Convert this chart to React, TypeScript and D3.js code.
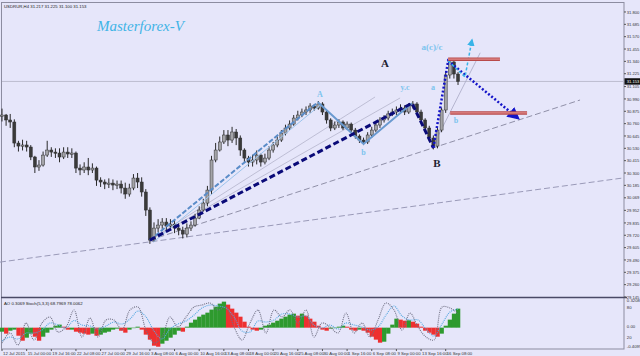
import React from 'react';
import * as d3 from 'd3';

const W = 640;
const H = 356;

const closes = [30.840,30.794,30.775,30.579,30.551,30.561,30.542,30.449,30.356,30.374,30.467,30.514,30.495,30.486,30.449,30.495,30.477,30.486,30.346,30.328,30.356,30.328,30.346,30.234,30.216,30.197,30.206,30.188,30.197,30.160,30.104,30.160,30.253,30.216,30.123,29.955,29.675,29.787,29.815,29.843,29.806,29.824,29.787,29.768,29.731,29.787,29.815,29.880,29.955,30.020,30.141,30.421,30.514,30.589,30.654,30.607,30.682,30.626,30.514,30.439,30.402,30.421,30.467,30.402,30.439,30.514,30.561,30.607,30.672,30.719,30.756,30.812,30.840,30.868,30.887,30.924,30.905,30.943,30.868,30.794,30.719,30.747,30.775,30.719,30.756,30.700,30.644,30.607,30.589,30.654,30.700,30.747,30.794,30.812,30.850,30.868,30.887,30.905,30.868,30.924,30.943,30.868,30.794,30.719,30.626,30.551,30.700,30.887,31.213,31.334,31.222,31.153];
const highs = [30.900,30.850,30.850,30.800,30.600,30.610,30.600,30.560,30.460,30.420,30.500,30.600,30.540,30.530,30.530,30.540,30.540,30.530,30.500,30.380,30.400,30.440,30.390,30.360,30.260,30.240,30.250,30.240,30.230,30.230,30.210,30.200,30.290,30.300,30.260,30.150,29.980,29.840,29.870,29.880,29.880,29.870,29.860,29.830,29.800,29.830,29.850,29.920,29.990,30.060,30.180,30.460,30.580,30.640,30.700,30.700,30.730,30.710,30.650,30.530,30.460,30.470,30.510,30.480,30.480,30.550,30.590,30.640,30.700,30.750,30.790,30.840,30.880,30.900,30.920,30.950,30.940,30.970,30.960,30.880,30.810,30.780,30.800,30.790,30.780,30.770,30.720,30.660,30.630,30.680,30.730,30.770,30.820,30.840,30.880,30.900,30.920,30.940,30.930,30.950,30.970,30.960,30.890,30.810,30.740,30.650,30.720,30.910,31.250,31.360,31.350,31.240];
const lows = [30.780,30.740,30.720,30.540,30.500,30.510,30.500,30.420,30.300,30.320,30.360,30.450,30.450,30.440,30.400,30.430,30.440,30.440,30.300,30.280,30.300,30.280,30.300,30.180,30.170,30.150,30.160,30.140,30.150,30.110,30.060,30.080,30.140,30.160,30.080,29.900,29.640,29.660,29.750,29.780,29.760,29.770,29.740,29.720,29.690,29.700,29.760,29.800,29.870,29.940,29.990,30.100,30.400,30.500,30.570,30.550,30.580,30.560,30.460,30.400,30.360,30.360,30.380,30.360,30.380,30.420,30.490,30.540,30.590,30.650,30.700,30.740,30.790,30.820,30.840,30.860,30.880,30.890,30.840,30.760,30.690,30.700,30.720,30.700,30.700,30.680,30.620,30.580,30.560,30.570,30.630,30.680,30.720,30.770,30.790,30.830,30.840,30.860,30.840,30.850,30.900,30.840,30.770,30.690,30.600,30.520,30.530,30.680,30.860,31.180,31.180,31.120];

const aoValues = [-0.049,-0.073,-0.037,-0.024,-0.098,-0.159,-0.122,-0.073,-0.110,-0.159,-0.110,-0.061,-0.024,0.024,0.037,0.012,-0.024,-0.024,-0.049,-0.061,-0.073,-0.085,-0.073,-0.098,-0.085,-0.061,-0.049,-0.024,-0.012,-0.037,-0.061,-0.024,0.000,0.012,-0.024,-0.085,-0.146,-0.220,-0.232,-0.195,-0.159,-0.122,-0.085,-0.037,-0.049,0.012,0.061,0.098,0.134,0.159,0.183,0.220,0.256,0.293,0.317,0.281,0.232,0.183,0.134,0.073,0.012,-0.024,-0.037,-0.024,0.024,0.037,0.061,0.085,0.110,0.134,0.159,0.171,0.146,0.171,0.146,0.110,0.073,0.024,-0.024,-0.037,-0.012,-0.006,0.012,0.024,0.012,-0.024,-0.037,-0.024,-0.037,-0.061,-0.110,-0.146,-0.183,-0.171,-0.073,0.037,0.110,0.098,0.085,0.090,0.073,0.049,0.012,-0.037,-0.061,-0.085,-0.110,-0.073,0.024,0.098,0.171,0.232];

const stochMain = [10,30,6,50,16,50,62,32,42,76,22,60,22,56,56,36,76,82,36,10,22,62,42,62,82,86,90,76,82,42,16,50,76,30,76,62,76,50,76,22,50,42,30,70,30,50,22,56,90,76,36,70,42,22,16,82,80,69];
const stochSignal = [14,22,18,30,30,36,50,46,40,55,46,44,38,44,52,48,58,74,62,34,18,38,48,54,66,80,86,84,80,62,34,32,54,52,56,68,68,62,64,46,40,46,38,50,46,42,36,42,66,84,64,56,56,38,24,48,72,78];

const priceTicks = [31.800,31.685,31.570,31.455,31.340,31.225,31.105,30.990,30.875,30.760,30.645,30.530,30.415,30.300,30.185,30.069,29.952,29.835,29.720,29.605,29.490,29.375,29.260,29.145];
const timeLabels = ['12 Jul 2015','15 Jul 00:00','19 Jul 16:00','22 Jul 08:00','27 Jul 00:00','29 Jul 16:00','3 Aug 08:00','6 Aug 00:00','10 Aug 16:00','13 Aug 08:00','18 Aug 00:00','20 Aug 16:00','25 Aug 08:00','30 Aug 00:00','1 Sep 16:00','6 Sep 08:00','9 Sep 00:00','13 Sep 16:00','16 Sep 08:00'];
const subLabels = ['0.3208', '80', '0.00', '20', '-0.4099'];

const lastPrice = 31.153;
const headerText = 'USDRUR,H4  31.217 31.225 31.100 31.153';
const indicatorText = 'AO 0.3069  Stoch(5,3,3) 68.7969 78.0062';

// annotation anchors: [bar step, price]
const navyWave = [[36, 29.675], [99.8, 30.95], [105, 30.535]];
const dottedWave = [[105, 30.535], [108.6, 31.345], [125.6, 30.81]];
const cyanWave = [[108.6, 31.345], [112.7, 31.195], [114.4, 31.54]];
const waveAChannel = [[36, 29.675], [76.9, 30.96]];
const waveAZig = [[76.9, 30.96], [88, 30.57], [99.8, 30.95]];
const fanA = [[36, 29.675], [90.8, 31.008]];
const fanB = [[36, 29.675], [96.9, 30.999]];
const fanC = [[105.3, 30.58], [116.4, 31.42]];
const redTop = [[108.6, 31.36], [121.2, 31.36]];
const redBottom = [[109.1, 30.86], [127.8, 30.86]];
const trendLow = [[-0.5, 29.47], [151.4, 30.255]];
const trendHigh = [[36, 29.675], [140.7, 30.98]];

export default function App() {
  const x = d3.scaleLinear().domain([0, 151.4]).range([2, 624]);
  const y = d3.scaleLinear().domain([29.145, 31.893]).range([297, 2]);
  const ao = d3.scaleLinear().domain([-0.26, 0.33]).range([349, 300.6]);
  const st = d3.scaleLinear().domain([0, 100]).range([348, 298]);
  const stepW = x(1) - x(0);

  const line = d3.line<number[]>().x(d => x(d[0])).y(d => y(d[1]));
  const stLine = d3.line<number>().x((_, i) => x(i * (111 / 57))).y(d => st(d)).curve(d3.curveCatmullRom);
  const subY = [302.3, 309.3, 328.3, 339.3, 348.3];

  const bg = '#E6E6FA';
  const axisText = { fontSize: 4.3, fill: '#333' } as const;
  const serif = "'Liberation Serif', serif";
  return (
    <svg width={W} height={H} style={{ position: 'fixed', left: 0, top: 0, display: 'block' }} fontFamily="'Liberation Sans', Arial, sans-serif">
      <defs>
        <marker id="arrNavy" viewBox="0 0 10 10" refX="8" refY="5" markerWidth="5" markerHeight="5" orient="auto">
          <path d="M0,0 L10,5 L0,10 z" fill="#1414C8" />
        </marker>
        <marker id="arrCyan" viewBox="0 0 10 10" refX="8" refY="5" markerWidth="5" markerHeight="5" orient="auto">
          <path d="M0,0 L10,5 L0,10 z" fill="#38B4E8" />
        </marker>
      </defs>
      <rect x={0} y={0} width={W} height={H} fill={bg} />
      <rect x={1.5} y={2.5} width={622.5} height={346.5} fill="none" stroke="#8C8CA0" strokeWidth={1} />
      <line x1={1} x2={627} y1={297.5} y2={297.5} stroke="#4A4A66" strokeWidth={1.5} />
      <line x1={2} x2={624} y1={y(lastPrice)} y2={y(lastPrice)} stroke="#BDBDD0" strokeWidth={1} />
      <path d={line(trendLow) || ''} fill="none" stroke="#9A9AB8" strokeWidth={1} strokeDasharray="6,3" />
      <path d={line(trendHigh) || ''} fill="none" stroke="#9090A8" strokeWidth={1} strokeDasharray="6,3" />
      <path d={line(fanA) || ''} fill="none" stroke="#B4B4CC" strokeWidth={0.8} />
      <path d={line(fanB) || ''} fill="none" stroke="#B4B4CC" strokeWidth={0.8} />
      <path d={line(fanC) || ''} fill="none" stroke="#A8A8C4" strokeWidth={0.8} />
      {closes.map((c, i) => {
        const o = i === 0 ? c : closes[i - 1];
        const cx = x(i);
        const up = c >= o;
        const top = y(Math.max(o, c));
        const bh = Math.max(1.2, y(Math.min(o, c)) - top);
        return (
          <g key={i}>
            <line x1={cx} x2={cx} y1={y(highs[i])} y2={y(lows[i])} stroke="#2A2A2A" strokeWidth={1} />
            <rect x={cx - 1.5} y={top} width={3} height={bh} fill={up ? '#A4A4A8' : '#3A3A3A'} stroke="#2E2E2E" strokeWidth={0.5} />
          </g>
        );
      })}
      <path d={line(waveAChannel) || ''} fill="none" stroke="#5A8CC8" strokeWidth={2} strokeDasharray="5,2" />
      <path d={line(waveAChannel.map(d => [d[0] + 0.8, d[1] - 0.02])) || ''} fill="none" stroke="#9CC4EC" strokeWidth={1} />
      <path d={line(waveAZig) || ''} fill="none" stroke="#6A9AD0" strokeWidth={2} />
      <path d={line(navyWave) || ''} fill="none" stroke="#0A0A78" strokeWidth={3} strokeDasharray="6,3" />
      <path d={line(dottedWave) || ''} fill="none" stroke="#1414C8" strokeWidth={2.5} strokeDasharray="2,2" markerEnd="url(#arrNavy)" />
      <path d={line(cyanWave) || ''} fill="none" stroke="#38B4E8" strokeWidth={1.5} strokeDasharray="3,2" markerEnd="url(#arrCyan)" />
      <path d={line(redTop) || ''} fill="none" stroke="#B84A4A" strokeWidth={3.5} />
      <path d={line(redTop) || ''} fill="none" stroke="#E08A8A" strokeWidth={1.2} />
      <path d={line(redBottom) || ''} fill="none" stroke="#B84A4A" strokeWidth={3.5} />
      <path d={line(redBottom) || ''} fill="none" stroke="#E08A8A" strokeWidth={1.2} />
      <text x={97} y={31} fontFamily={serif} fontStyle="italic" fontSize={15} fill="#3FB4E6">Masterforex-V</text>
      <text x={385} y={67} fontFamily={serif} fontWeight="bold" fontSize={11} fill="#202030" textAnchor="middle">A</text>
      <text x={437} y={167} fontFamily={serif} fontWeight="bold" fontSize={11} fill="#202030" textAnchor="middle">B</text>
      <text x={432} y={50} fontFamily={serif} fontWeight="bold" fontSize={9} fill="#7CC4EE" textAnchor="middle">a(c)/c</text>
      <text x={405} y={90} fontFamily={serif} fontWeight="bold" fontSize={8} fill="#7CC4EE" textAnchor="middle">y.c</text>
      <text x={433} y={90} fontFamily={serif} fontWeight="bold" fontSize={8} fill="#7CC4EE" textAnchor="middle">a</text>
      <text x={456} y={123} fontFamily={serif} fontWeight="bold" fontSize={8} fill="#7CC4EE" textAnchor="middle">b</text>
      <text x={x(76.9) + 2} y={y(30.96) - 5} fontFamily={serif} fontWeight="bold" fontSize={8} fill="#7CC4EE" textAnchor="middle">A</text>
      <text x={x(88)} y={y(30.57) + 11} fontFamily={serif} fontWeight="bold" fontSize={8} fill="#7CC4EE" textAnchor="middle">b</text>
      <text x={4} y={8} fontSize={4.3} fill="#202020">{headerText}</text>
      {priceTicks.map((p, i) => (
        <g key={i}>
          <line x1={624} x2={626} y1={y(p)} y2={y(p)} stroke="#555" />
          <text x={626.8} y={y(p) + 1.6} {...axisText} textLength={12.6} lengthAdjust="spacingAndGlyphs">{p.toFixed(3)}</text>
        </g>
      ))}
      <rect x={624.5} y={y(lastPrice) - 3.2} width={15.5} height={6.4} fill="#111" />
      <text x={626.8} y={y(lastPrice) + 1.6} fontSize={4.3} fill="#fff" textLength={12.6} lengthAdjust="spacingAndGlyphs">{lastPrice.toFixed(3)}</text>
      {aoValues.map((v, i) => {
        const prev = i === 0 ? v : aoValues[i - 1];
        const col = v >= prev ? '#2E9A2E' : '#EE3030';
        const y0 = ao(0);
        const yv = ao(v);
        return <rect key={i} x={x(i) - stepW / 2} y={Math.min(y0, yv)} width={stepW + 0.2} height={Math.max(0.5, Math.abs(yv - y0))} fill={col} />;
      })}
      <path d={stLine(stochSignal) || ''} fill="none" stroke="#55A8E0" strokeWidth={1.1} strokeDasharray="1,1" />
      <path d={stLine(stochMain) || ''} fill="none" stroke="#707084" strokeWidth={1.1} strokeDasharray="1,1" />
      <text x={4} y={305} fontSize={4.3} fill="#202020">{indicatorText}</text>
      {subLabels.map((s, i) => (
        <text key={s} x={626.8} y={subY[i]} {...axisText}>{s}</text>
      ))}
      {timeLabels.map((t, i) => (
        <g key={i}>
          <line x1={x(i * 6)} x2={x(i * 6)} y1={349} y2={351} stroke="#555" />
          <text x={x(i * 6) + 1} y={355} fontSize={4.3} fill="#333">{t}</text>
        </g>
      ))}
    </svg>
  );
}
